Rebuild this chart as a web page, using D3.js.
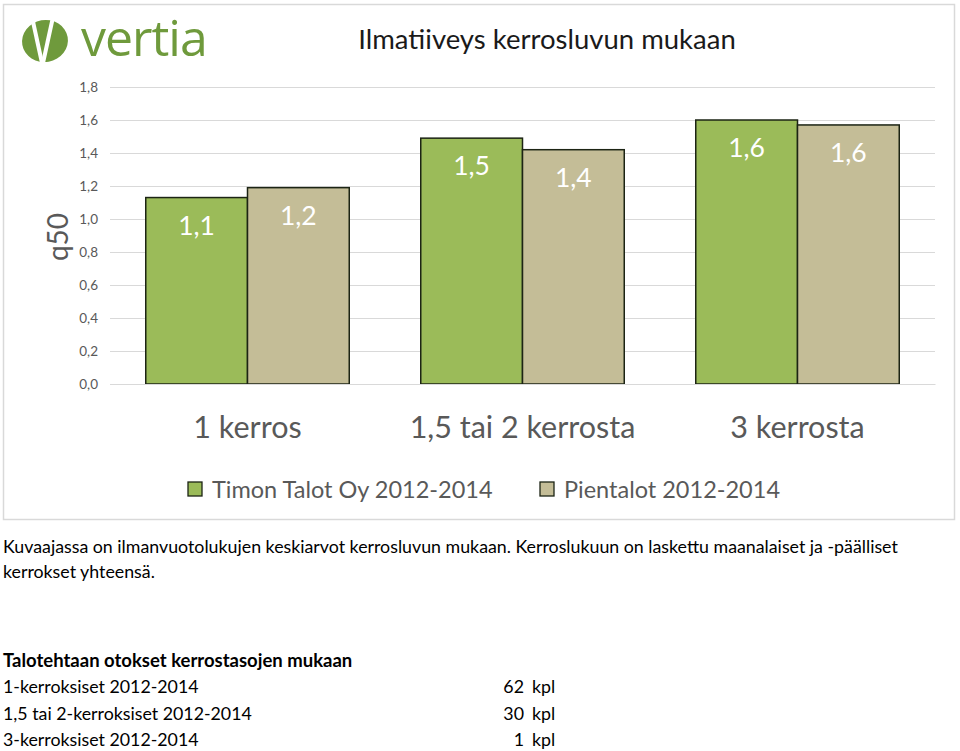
<!DOCTYPE html>
<html><head><meta charset="utf-8">
<script src="https://cdn.jsdelivr.net/npm/d3@7"></script>
<style>
html,body{margin:0;padding:0;background:#fff;}
svg{display:block;font-family:Lato,"Open Sans",sans-serif;}
</style></head>
<body>
<script>
// ---- data ----
const categories = ["1 kerros", "1,5 tai 2 kerrosta", "3 kerrosta"];
const seriesNames = ["Timon Talot Oy 2012-2014", "Pientalot 2012-2014"];
const timonValues = [1.13, 1.49, 1.60];
const pientalotValues = [1.19, 1.42, 1.57];
const yTicks = [0, 0.2, 0.4, 0.6, 0.8, 1.0, 1.2, 1.4, 1.6, 1.8];
const title = "Ilmatiiveys kerrosluvun mukaan";
const yLabel = "q50";
const noteLines = ["Kuvaajassa on ilmanvuotolukujen keskiarvot kerrosluvun mukaan. Kerroslukuun on laskettu maanalaiset ja -päälliset", "kerrokset yhteensä."];
const tableTitle = "Talotehtaan otokset kerrostasojen mukaan";
const sampleLabels = ["1-kerroksiset 2012-2014", "1,5 tai 2-kerroksiset 2012-2014", "3-kerroksiset 2012-2014"];
const sampleCounts = [62, 30, 1];

const colors = ["#9bbb59", "#c4bd97"];
const W = 960, H = 751;
const svg = d3.select("body").append("svg").attr("width", W).attr("height", H);

// chart frame
svg.append("rect").attr("x", 3.5).attr("y", 4.5).attr("width", 951).attr("height", 515)
  .attr("fill", "#fff").attr("stroke", "#d9d9d9").attr("stroke-width", 1.5);

// logo
const logo = svg.append("g").attr("transform", "translate(45,41)");
logo.append("ellipse").attr("rx", 23).attr("ry", 21).attr("fill", "#6f9a3c").attr("transform", "rotate(-10)");
logo.append("path").attr("d", "M-13,-24 L-3,22").attr("stroke", "#fff").attr("stroke-width", 4);
logo.append("path").attr("d", "M8,-24 L-2,22").attr("stroke", "#fff").attr("stroke-width", 4);
svg.append("text").attr("x", 81).attr("y", 56).attr("font-size", 50).attr("fill", "#6f9a3c")
  .attr("font-family", "'Open Sans',sans-serif").attr("letter-spacing", -1).text("vertia");

// title
svg.append("text").attr("x", 547).attr("y", 49).attr("text-anchor", "middle")
  .attr("font-size", 27.5).attr("fill", "#1a1a1a").text(title);

// scales
const plotLeft = 110, plotRight = 935, y0 = 384;
const y = d3.scaleLinear().domain([0, 1.8]).range([y0, 87]);
const x = d3.scaleBand().domain(categories).range([plotLeft, plotRight]).paddingInner(0.26).paddingOuter(0.13);
const xs = d3.scaleBand().domain(seriesNames).range([0, x.bandwidth()]);
const fmt = v => d3.format(".1f")(v).replace(".", ",");

// gridlines + y axis
const yAxis = d3.axisLeft(y).tickValues(yTicks).tickFormat(fmt).tickSize(-(plotRight - plotLeft)).tickPadding(12);
const yg = svg.append("g").attr("transform", `translate(${plotLeft},0)`).call(yAxis);
yg.select(".domain").remove();
yg.selectAll(".tick line").attr("stroke", "#d9d9d9").attr("stroke-width", 1.2);
yg.selectAll(".tick text").attr("font-size", 13.5).attr("fill", "#595959").attr("font-family", "Lato,sans-serif");

// y label
svg.append("text").attr("transform", "translate(68,237) rotate(-90)").attr("text-anchor", "middle")
  .attr("font-size", 28).attr("fill", "#595959").text(yLabel);

// bars
const data = categories.map((c, i) => ({cat: c, vals: [timonValues[i], pientalotValues[i]]}));
const groups = svg.append("g").selectAll("g").data(data).join("g")
  .attr("transform", d => `translate(${x(d.cat)},0)`);
groups.selectAll("rect").data(d => d.vals.map((v, j) => ({v, s: seriesNames[j], j}))).join("rect")
  .attr("x", d => xs(d.s)).attr("width", xs.bandwidth())
  .attr("y", d => y(d.v)).attr("height", d => y0 - y(d.v))
  .attr("fill", d => colors[d.j]).attr("stroke", "#1c2414").attr("stroke-width", 1.5);
groups.selectAll("text").data(d => d.vals.map((v, j) => ({v, s: seriesNames[j], j}))).join("text")
  .attr("x", d => xs(d.s) + xs.bandwidth() / 2).attr("y", d => y(d.v) + 37)
  .attr("text-anchor", "middle").attr("font-size", 26.5).attr("fill", "#fff").text(d => fmt(d.v));

// x axis
const xAxis = d3.axisBottom(x).tickSize(0).tickPadding(32);
const xg = svg.append("g").attr("transform", `translate(0,${y0})`).call(xAxis);
xg.select(".domain").attr("stroke", "#d9d9d9").attr("stroke-width", 1.2);
xg.selectAll(".tick text").attr("font-size", 30.5).attr("fill", "#595959").attr("font-family", "Lato,sans-serif");

// legend
const legendX = [188, 540];
seriesNames.forEach((s, i) => {
  svg.append("rect").attr("x", legendX[i]).attr("y", 482).attr("width", 14).attr("height", 14)
    .attr("fill", colors[i]).attr("stroke", "#1c2414").attr("stroke-width", 1.3);
  svg.append("text").attr("x", legendX[i] + 24).attr("y", 498).attr("font-size", 23.5).attr("fill", "#595959").text(s);
});

// notes
const fs = 17.8;
noteLines.forEach((t, i) => {
  svg.append("text").attr("x", 3).attr("y", 553 + i * 25).attr("font-size", fs).attr("fill", "#000").text(t);
});

// table
svg.append("text").attr("x", 3).attr("y", 667).attr("font-size", 18.5).attr("font-weight", "bold").attr("fill", "#000").text(tableTitle);
sampleLabels.forEach((t, i) => {
  const yy = 693 + i * 26.5;
  svg.append("text").attr("x", 3).attr("y", yy).attr("font-size", fs).attr("fill", "#000").text(t);
  svg.append("text").attr("x", 524).attr("y", yy).attr("text-anchor", "end").attr("font-size", fs).attr("fill", "#000").text(sampleCounts[i]);
  svg.append("text").attr("x", 532).attr("y", yy).attr("font-size", fs).attr("fill", "#000").text("kpl");
});
</script>
</body></html>
